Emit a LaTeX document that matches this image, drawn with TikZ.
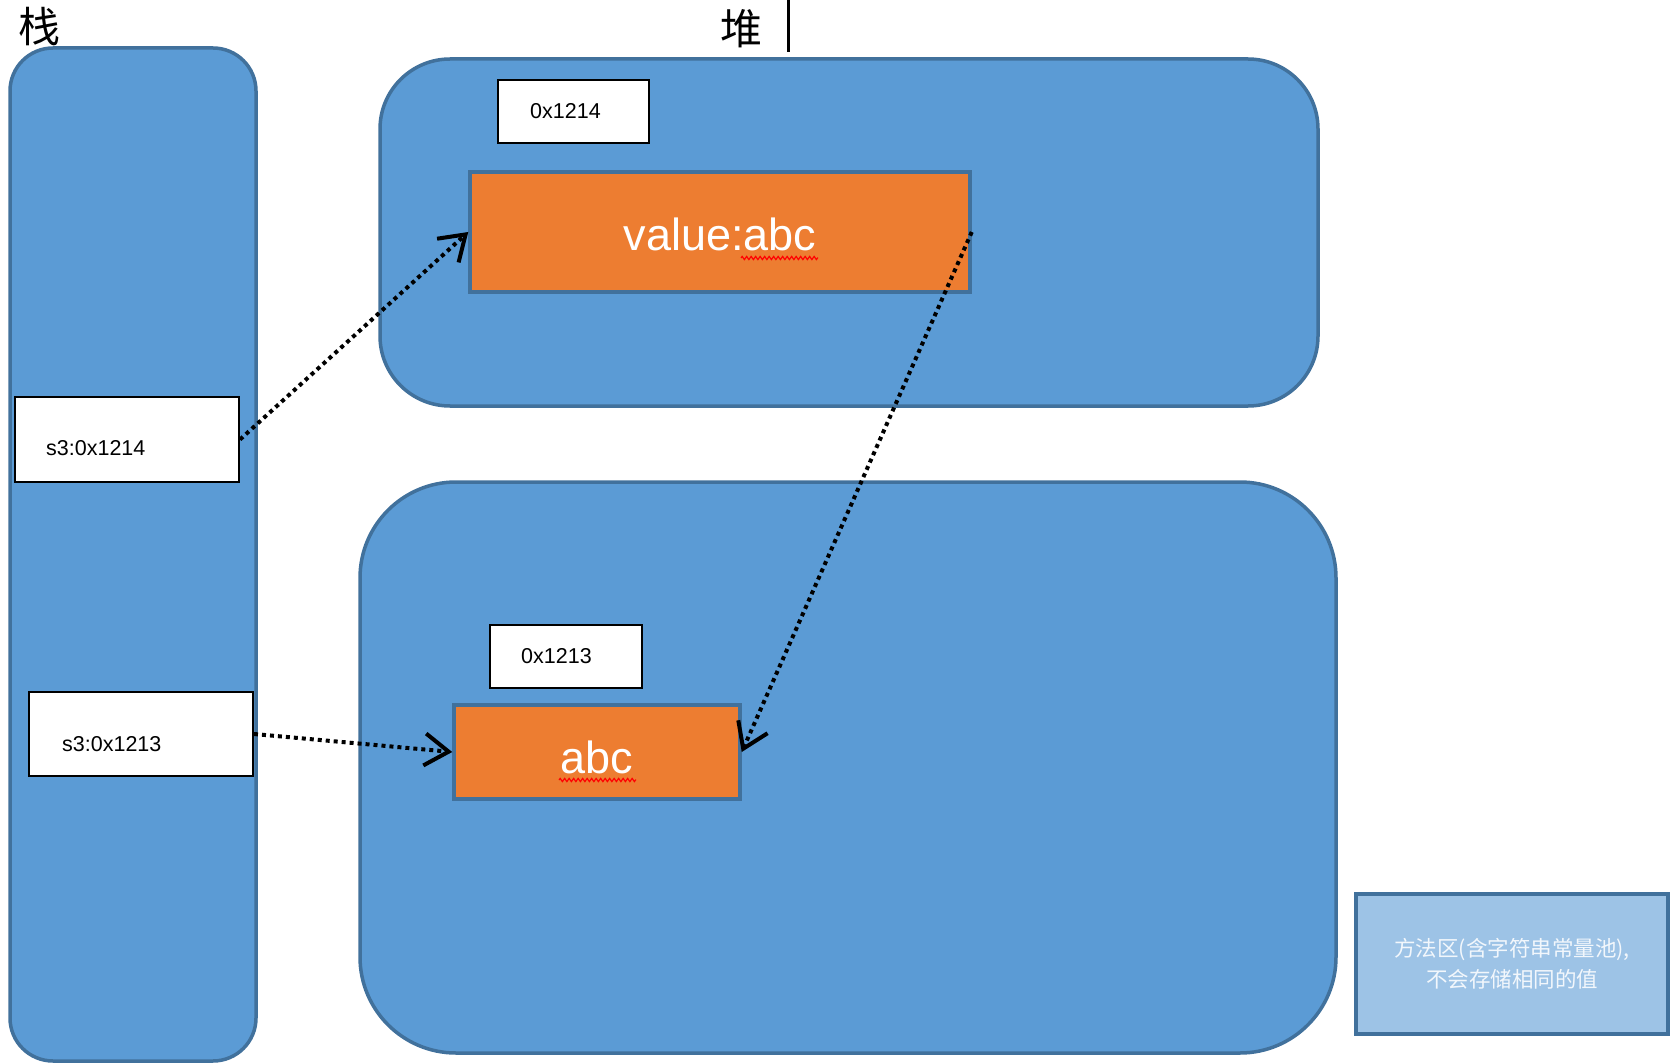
\documentclass[tikz,border=0pt]{standalone}
\usepackage{fontspec}
\setmainfont{Liberation Sans}
\newfontfamily\cjk{Noto Sans CJK SC}
\usetikzlibrary{arrows.meta,decorations.pathmorphing}
\definecolor{areablue}{HTML}{5B9BD5}
\definecolor{edgeblue}{HTML}{41719C}
\definecolor{objorange}{HTML}{ED7D31}
\definecolor{methodblue}{HTML}{9DC3E6}
\definecolor{methodtext}{HTML}{F2F7FC}
\begin{document}
\begin{tikzpicture}[x=1pt,y=-1pt,
  area/.style={draw=edgeblue, fill=areablue, line width=3.5pt, inner sep=0pt},
  addrbox/.style={draw=black, fill=white, line width=2pt, inner sep=0pt},
  objbox/.style={draw=edgeblue, fill=objorange, line width=3.5pt, inner sep=0pt},
  smalltxt/.style={inner sep=0pt, font=\fontsize{21.5}{26}\selectfont},
  bigtxt/.style={inner sep=0pt, text=white, font=\fontsize{45}{54}\selectfont},
  cjktitle/.style={inner sep=0pt, font=\cjk\fontsize{42}{50}\selectfont},
  ptr/.style={draw=black, line width=4pt, dash pattern=on 4pt off 4pt,
    -{Straight Barb[length=24pt,width=32pt,line width=4pt]}},
  squiggle/.style={draw=red, line width=1.2pt, decorate,
    decoration={zigzag, segment length=4.5pt, amplitude=1.6pt}}
]
\useasboundingbox (0,0) rectangle (1678,1064);
\fill[white] (0,0) rectangle (1678,1064);

% titles
\node[cjktitle] (stacktitle) at (39,27) {栈};
\node[cjktitle] (heaptitle) at (741,29) {堆};
\coordinate (vtop) at (788,0);
\coordinate (vbot) at (788,52);
\draw[line width=3pt] (vtop) -- (vbot);

% areas
\node[area, rounded corners=43pt, minimum width=246pt, minimum height=1013pt] (stack) at (133,554.5) {};
\node[area, rounded corners=70pt, minimum width=938pt, minimum height=347pt] (heap1) at (849,232.5) {};
\node[area, rounded corners=96pt, minimum width=976pt, minimum height=571pt] (heap2) at (848,767.5) {};

% top heap object
\node[addrbox, minimum width=151pt, minimum height=63pt] (a1214) at (573.5,111.5) {};
\node[smalltxt, anchor=base west] (t1214) at (530,119) {0x1214};
\node[objbox, minimum width=500pt, minimum height=120pt] (vabc) at (720,232) {};
\node[bigtxt, anchor=base] (tvabc) at (720,251) {value:abc};
\coordinate (sq1a) at (741,258);
\coordinate (sq1b) at (818,258);
\draw[squiggle] (sq1a) -- (sq1b);

% bottom heap object
\node[addrbox, minimum width=152pt, minimum height=63pt] (a1213) at (566,656.5) {};
\node[smalltxt, anchor=base west] (t1213) at (521,663) {0x1213};
\node[objbox, minimum width=286pt, minimum height=94pt] (abc) at (597,752) {};
\node[bigtxt, anchor=base] (tabc) at (597,773) {abc};
\coordinate (sq2a) at (559,780);
\coordinate (sq2b) at (636,780);
\draw[squiggle] (sq2a) -- (sq2b);

% stack variables
\node[addrbox, minimum width=224pt, minimum height=85pt] (s1) at (127,439.5) {};
\node[smalltxt, anchor=base west] (ts1) at (46,455) {s3:0x1214};
\node[addrbox, minimum width=224pt, minimum height=84pt] (s2) at (141,734) {};
\node[smalltxt, anchor=base west] (ts2) at (62,751) {s3:0x1213};

% method area
\node[draw=edgeblue, fill=methodblue, line width=3.5pt, minimum width=312pt, minimum height=140pt,
      text=methodtext, align=center, font=\cjk\fontsize{21.5}{31}\selectfont] (method) at (1512,964)
      {方法区(含字符串常量池),\\不会存储相同的值};

% pointers
\draw[ptr] (s1.east) -- (vabc.west);
\draw[ptr] (s2.east) -- (abc.west);
\draw[ptr] (vabc.east) -- (abc.east);
\end{tikzpicture}
\end{document}
